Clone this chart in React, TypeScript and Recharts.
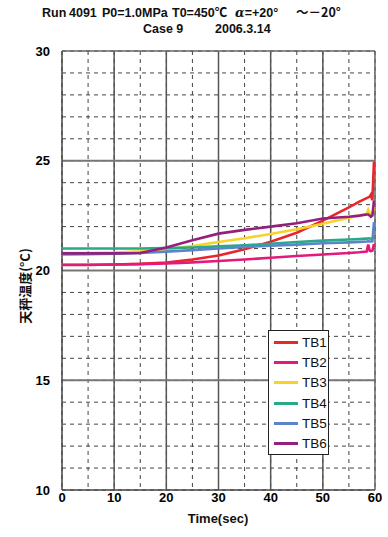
import { LineChart, Line, XAxis, YAxis, CartesianGrid, ReferenceLine } from 'recharts';

// sample times (sec) shared by all six thermocouples
const times = [0, 5, 10, 15, 20, 25, 30, 35, 40, 45, 50, 55, 57, 58.4, 58.7, 59, 59.2, 59.5, 59.8];

const tb1 = [20.25, 20.25, 20.27, 20.3, 20.36, 20.5, 20.68, 20.97, 21.31, 21.72, 22.27, 22.88, 23.14, 23.3, 23.33, 23.37, 23.45, 23.2, 24.95];
const tb2 = [20.26, 20.26, 20.27, 20.29, 20.32, 20.37, 20.43, 20.5, 20.58, 20.66, 20.73, 20.8, 20.83, 20.86, 21.18, 20.9, 20.88, 20.9, 21.2];
const tb3 = [20.8, 20.8, 20.82, 20.88, 20.97, 21.12, 21.3, 21.47, 21.66, 21.88, 22.13, 22.4, 22.5, 22.58, 22.77, 22.6, 22.55, 22.55, 22.9];
const tb4 = [21.0, 21.0, 21.0, 21.0, 21.02, 21.05, 21.1, 21.15, 21.22, 21.3, 21.36, 21.41, 21.43, 21.45, 21.47, 21.46, 21.45, 21.46, 21.55];
const tb5 = [20.73, 20.74, 20.76, 20.8, 20.86, 20.93, 21.0, 21.07, 21.13, 21.18, 21.24, 21.28, 21.3, 21.32, 21.33, 21.32, 21.32, 21.33, 22.2];
const tb6 = [20.78, 20.78, 20.78, 20.8, 21.05, 21.38, 21.68, 21.85, 22.0, 22.15, 22.37, 22.45, 22.5, 22.55, 22.55, 22.5, 22.45, 22.5, 23.2];

const seriesNames = ['TB1', 'TB2', 'TB3', 'TB4', 'TB5', 'TB6'];
const seriesColors = ['#e8262c', '#e5197a', '#f6d22a', '#2aa98a', '#5a86c8', '#94207e'];
const seriesValues = [tb1, tb2, tb3, tb4, tb5, tb6];

const xTicks = [0, 5, 10, 15, 20, 25, 30, 35, 40, 45, 50, 55, 60];
const yTicks = [10, 11, 12, 13, 14, 15, 16, 17, 18, 19, 20, 21, 22, 23, 24, 25, 26, 27, 28, 29, 30];
const xMajor = [10, 20, 30, 40, 50];
const yMajor = [15, 20, 25];

const data = times.map((t, i) => {
  const row: Record<string, number> = { t };
  seriesNames.forEach((name, k) => { row[name] = seriesValues[k][i]; });
  return row;
});

const sans = 'Liberation Sans, Arial, sans-serif';
const cjk = '"Noto Sans CJK JP", sans-serif';
const tickFont = { fill: '#000', fontSize: 13, fontWeight: 'bold', fontFamily: sans };

function TitleText({ x, y, children, font = sans }: { x: number; y: number; children: React.ReactNode; font?: string }) {
  return (
    <div style={{ position: 'absolute', left: x, top: y, height: 15, lineHeight: '15px', whiteSpace: 'pre', fontFamily: font, fontWeight: 'bold', fontSize: 12.5, color: '#111' }}>
      {children}
    </div>
  );
}

function LegendBox() {
  return (
    <div style={{ position: 'absolute', left: 268, top: 330, width: 61, height: 125, border: '1px solid #222', background: '#fff', boxSizing: 'border-box', paddingTop: 1 }}>
      {seriesNames.map((name, k) => (
        <div key={name} style={{ display: 'flex', alignItems: 'center', height: 20.3 }}>
          <span style={{ display: 'inline-block', marginLeft: 5, width: 24, height: 3, background: seriesColors[k] }} />
          <span style={{ marginLeft: 4, fontSize: 13.5, fontFamily: sans, color: '#111' }}>{name}</span>
        </div>
      ))}
    </div>
  );
}

export default function App() {
  return (
    <div style={{ position: 'absolute', left: 0, top: 0, width: 388, height: 537, background: '#fff', overflow: 'hidden' }}>
      <TitleText x={42} y={6}>Run</TitleText>
      <TitleText x={69} y={6}>4091</TitleText>
      <TitleText x={102} y={6}>P0=1.0MPa</TitleText>
      <TitleText x={172} y={6}>T0=450<span style={{ fontFamily: cjk, lineHeight: '8px' }}>℃</span></TitleText>
      <TitleText x={235} y={6}><i style={{ fontFamily: 'DejaVu Serif, serif', lineHeight: '8px' }}>α</i>=+20°</TitleText>
      <TitleText x={296} y={4} font={cjk}>～－20°</TitleText>
      <TitleText x={143} y={22}>Case 9</TitleText>
      <TitleText x={215} y={22}>2006.3.14</TitleText>
      <LineChart width={388} height={537} data={data} margin={{ top: 51, right: 13, bottom: 17, left: 0 }} style={{ position: 'absolute', left: 0, top: 0 }}>
        <CartesianGrid stroke="#444" strokeDasharray="4 4" strokeWidth={1} />
        <XAxis dataKey="t" type="number" domain={[0, 60]} ticks={xTicks} interval={0}
          tickFormatter={(v: number) => (v % 10 === 0 ? String(v) : '')}
          tick={tickFont} tickLine={false} axisLine={false} tickSize={2} tickMargin={1} height={30} />
        <YAxis type="number" domain={[10, 30]} ticks={yTicks} interval={0}
          tickFormatter={(v: number) => (v % 5 === 0 ? String(v) : '')}
          tick={tickFont} tickLine={false} axisLine={false} tickSize={6} tickMargin={6} width={62} />
        {xMajor.map((v) => <ReferenceLine key={'x' + v} x={v} stroke="#555" strokeWidth={1.5} />)}
        {yMajor.map((v) => <ReferenceLine key={'y' + v} y={v} stroke="#777" strokeWidth={1.8} />)}
        <ReferenceLine x={0} stroke="#444" strokeWidth={1.5} />
        <ReferenceLine x={60} stroke="#666" strokeWidth={1.5} />
        <ReferenceLine y={10} stroke="#444" strokeWidth={1.5} />
        <ReferenceLine y={30} stroke="#666" strokeWidth={1.5} />
        {seriesNames.map((name, k) => (
          <Line key={name} dataKey={name} stroke={seriesColors[k]} strokeWidth={2.6} dot={false} isAnimationActive={false} type="linear" />
        ))}
      </LineChart>
      <LegendBox />
      <div style={{ position: 'absolute', left: 168, top: 511, width: 100, textAlign: 'center', fontFamily: sans, fontWeight: 'bold', fontSize: 13, color: '#111' }}>
        Time(sec)
      </div>
      <div style={{ position: 'absolute', left: 25, top: 286, transform: 'translate(-50%, -50%) rotate(-90deg)', whiteSpace: 'nowrap', fontFamily: cjk, fontWeight: 'bold', fontSize: 13, lineHeight: '16px', color: '#111' }}>
        天秤温度(°C)
      </div>
    </div>
  );
}
